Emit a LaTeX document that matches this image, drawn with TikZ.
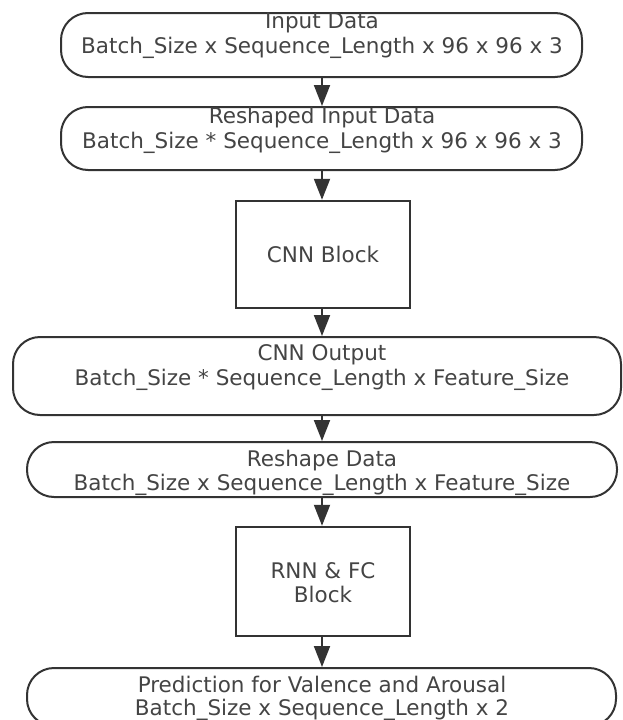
\documentclass[tikz,border=0pt]{standalone}
\usepackage{fontspec}
\setmainfont{DejaVu Sans}
\usetikzlibrary{arrows.meta}
\definecolor{edgecol}{HTML}{333333}
\definecolor{txtcol}{HTML}{444444}
\begin{document}
\begin{tikzpicture}[x=1pt,y=-1pt,
  roundbox/.style={draw=edgecol, line width=2pt, rounded corners=27pt, inner sep=0pt},
  blockbox/.style={draw=edgecol, line width=2.5pt, inner sep=0pt},
  lbl/.style={text=txtcol, font=\fontsize{21.5}{25}\selectfont, anchor=base, inner sep=0pt},
  arr/.style={draw=edgecol, line width=2pt, -{Triangle[width=16pt,length=21pt]}}]
\useasboundingbox (0,0) rectangle (622,720);
\clip (0,0) rectangle (622,720);
\coordinate (ax) at (322,0);
% boxes
\node[roundbox, minimum width=521pt, minimum height=64pt] (n1) at (321.5,45) {};
\node[roundbox, minimum width=521pt, minimum height=63pt] (n2) at (321.5,138.5) {};
\node[blockbox, minimum width=174pt, minimum height=107pt] (n3) at (323,254.5) {};
\node[roundbox, minimum width=608pt, minimum height=78pt] (n4) at (317,376) {};
\node[roundbox, minimum width=590pt, minimum height=55pt] (n5) at (322,469.5) {};
\node[blockbox, minimum width=174pt, minimum height=109pt] (n6) at (323,581.5) {};
\node[roundbox, minimum width=589pt, minimum height=58pt] (n7) at (321.5,697) {};
% labels
\node[lbl] (n1a) at (322,28) {Input Data};
\node[lbl] (n1b) at (322,53) {Batch\_Size x Sequence\_Length x 96 x 96 x 3};
\node[lbl] (n2a) at (322,123) {Reshaped Input Data};
\node[lbl] (n2b) at (322,148) {Batch\_Size * Sequence\_Length x 96 x 96 x 3};
\node[lbl] (n3a) at (323,262) {CNN Block};
\node[lbl] (n4a) at (322,360) {CNN Output};
\node[lbl] (n4b) at (322,385) {Batch\_Size * Sequence\_Length x Feature\_Size};
\node[lbl] (n5a) at (322,466) {Reshape Data};
\node[lbl] (n5b) at (322,490) {Batch\_Size x Sequence\_Length x Feature\_Size};
\node[lbl] (n6a) at (323,578) {RNN \& FC};
\node[lbl] (n6b) at (323,602) {Block};
\node[lbl] (n7a) at (322,692) {Prediction for Valence and Arousal};
\node[lbl] (n7b) at (322,715) {Batch\_Size x Sequence\_Length x 2};
% arrows
\draw[arr] (n1.south -| ax) -- (n2.north -| ax);
\draw[arr] (n2.south -| ax) -- (n3.north -| ax);
\draw[arr] (n3.south -| ax) -- (n4.north -| ax);
\draw[arr] (n4.south -| ax) -- (n5.north -| ax);
\draw[arr] (n5.south -| ax) -- (n6.north -| ax);
\draw[arr] (n6.south -| ax) -- (n7.north -| ax);
\end{tikzpicture}
\end{document}
